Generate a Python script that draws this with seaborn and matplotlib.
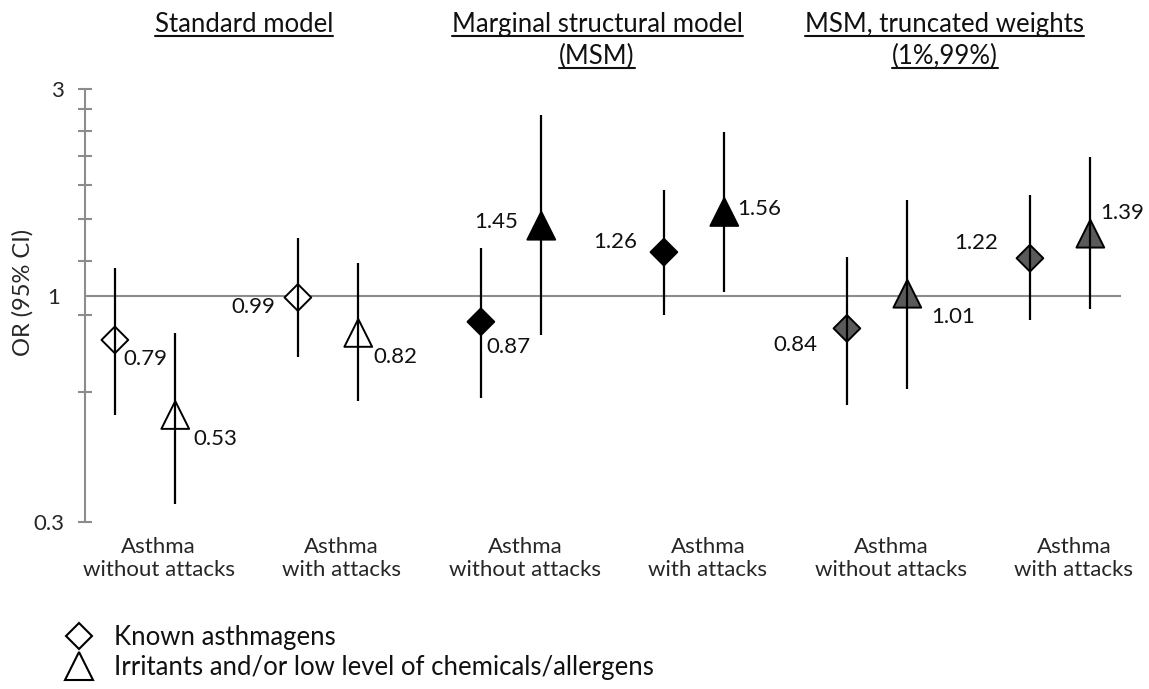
import numpy as np
import pandas as pd
import seaborn as sns
import matplotlib.pyplot as plt
from matplotlib.lines import Line2D

# data
outcomes = ["Asthma\nwithout attacks", "Asthma\nwith attacks"] * 3
models = ["Standard", "Standard", "MSM", "MSM", "MSM trunc", "MSM trunc"]
group_titles = [["Standard model"],
                ["Marginal structural model", "(MSM)"],
                ["MSM, truncated weights", "(1%,99%)"]]
exposures = ["Known asthmagens", "Irritants and/or low level of chemicals/allergens"]

# odds ratios per outcome column: [known asthmagens, irritants]
or_known = [0.79, 0.99, 0.87, 1.26, 0.84, 1.22]
or_irrit = [0.53, 0.82, 1.45, 1.56, 1.01, 1.39]
lo_known = [0.53, 0.72, 0.58, 0.90, 0.56, 0.88]
hi_known = [1.16, 1.36, 1.29, 1.75, 1.23, 1.71]
lo_irrit = [0.33, 0.57, 0.81, 1.02, 0.61, 0.93]
hi_irrit = [0.82, 1.19, 2.61, 2.39, 1.66, 2.09]

ytick_vals = [0.3, 0.6, 0.9, 1.2, 1.5, 1.8, 2.1, 2.4, 2.7, 3.0]
ytick_labels = ["0.3", "", "", "", "", "", "", "", "", "3"]

sns.set_style("white")
plt.rcParams['font.family'] = ['Lato', 'DejaVu Sans']
plt.rcParams['text.color'] = "#111111"

# build long table
rows = []
for i in range(6):
    rows.append(dict(col=i, model=models[i], exposure=exposures[0],
                     OR=or_known[i], lo=lo_known[i], hi=hi_known[i]))
    rows.append(dict(col=i, model=models[i], exposure=exposures[1],
                     OR=or_irrit[i], lo=lo_irrit[i], hi=hi_irrit[i]))
df = pd.DataFrame(rows)
shift = {exposures[0]: -0.165, exposures[1]: 0.165}
df["x"] = df["col"] + df["exposure"].map(shift)

fig = plt.figure(figsize=(11.49, 6.89), dpi=100)
ax = fig.add_axes([0.074, 0.2424, 0.9017, 0.6284])
ax.set_yscale("log")

# reference line at OR = 1
ax.axhline(1, color="#8c8c8c", lw=1.5, zorder=1)

palette = {"Standard": "white", "MSM": "black", "MSM trunc": "#5a5a5a"}
sns.scatterplot(data=df, x="x", y="OR", hue="model", style="exposure",
                size="exposure", palette=palette,
                markers={exposures[0]: "D", exposures[1]: "^"},
                sizes={exposures[0]: 185, exposures[1]: 400},
                edgecolor="black", linewidth=1.4, legend=False,
                ax=ax, zorder=2)

# confidence intervals drawn over the markers
ax.vlines(df["x"], df["lo"], df["hi"], color="black", lw=1.6, zorder=3)

# value labels: (dx, dy) in points, alignment
label_pos = [(6, -14, "left"), (13, -17, "left"),
             (-16, -7, "right"), (11, -17, "left"),
             (4, -18, "left"), (-17, 3, "right"),
             (-19, 7, "right"), (9, 2, "left"),
             (-21, -12, "right"), (17, -17, "left"),
             (-23, 11, "right"), (7, 15, "left")]
for (_, r), (dx, dy, ha) in zip(df.iterrows(), label_pos):
    ax.annotate(f"{r.OR:.2f}", (r.x, r.OR), xytext=(dx, dy),
                textcoords="offset points", ha=ha, va="center", fontsize=16)

ax.set_ylim(0.3, 3.0)
ax.set_xlim(-0.328, 5.333)
ax.set_yticks(ytick_vals, labels=ytick_labels)
ax.set_yticks([1], labels=["1"], minor=True)
ax.tick_params(axis="y", which="major", left=True, direction="inout",
               length=10, width=1.5, color="#8c8c8c", labelsize=16, pad=10)
ax.tick_params(axis="y", which="minor", left=True, length=0,
               labelsize=16, pad=18)
ax.set_xticks(np.arange(6) + 0.075, labels=outcomes)
ax.tick_params(axis="x", length=0, labelsize=16, pad=11)
ax.set_xlabel("")
ax.set_ylabel("OR (95% CI)", fontsize=17)
ax.yaxis.set_label_coords(-0.050, 0.53)

sns.despine(ax=ax, top=True, right=True, bottom=True)
ax.spines["left"].set_color("#8c8c8c")
ax.spines["left"].set_linewidth(1.5)

# group titles (underlined)
title_x = [0.541, 2.47, 4.37]
title_y = [1.15, 1.076]
trans = ax.get_xaxis_transform()
title_texts = []
for tx, lines in zip(title_x, group_titles):
    for k, line in enumerate(lines):
        t = ax.text(tx, title_y[k], line, transform=trans, ha="center",
                    va="center", fontsize=18.5)
        title_texts.append(t)

# legend
handles = [Line2D([], [], marker="D", ls="none", mfc="white", mec="black",
                  ms=13.5, mew=1.5),
           Line2D([], [], marker="^", ls="none", mfc="white", mec="black",
                  ms=20, mew=1.5)]
fig.legend(handles, exposures, loc="center left",
           bbox_to_anchor=(0.0457, 0.053), frameon=False, fontsize=18.5,
           handlelength=2.1, handletextpad=0.3, labelspacing=0.2,
           borderpad=0, borderaxespad=0)

fig.canvas.draw()
inv = fig.transFigure.inverted()
for t in title_texts:
    bb = t.get_window_extent()
    (x0, y0), (x1, _) = inv.transform([[bb.x0, bb.y0 + 1], [bb.x1, bb.y1]])
    fig.add_artist(Line2D([x0, x1], [y0, y0], color="#111111", lw=1.5,
                          transform=fig.transFigure))

fig.savefig("out.png", dpi=100)
